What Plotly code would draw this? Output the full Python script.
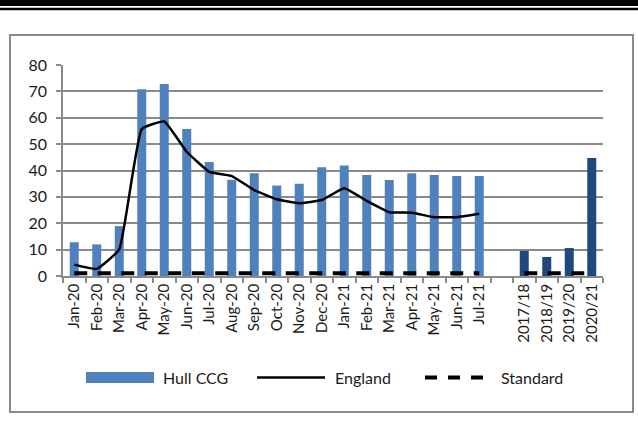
import plotly.graph_objects as go

# Monthly periods, a blank spacer slot, then financial years
months = ["Jan-20", "Feb-20", "Mar-20", "Apr-20", "May-20", "Jun-20", "Jul-20",
          "Aug-20", "Sep-20", "Oct-20", "Nov-20", "Dec-20", "Jan-21", "Feb-21",
          "Mar-21", "Apr-21", "May-21", "Jun-21", "Jul-21"]
spacer = [" "]
years = ["2017/18", "2018/19", "2019/20", "2020/21"]

hull_monthly = [12.8, 12.0, 18.9, 70.8, 72.8, 55.7, 43.2, 36.5, 39.0, 34.3, 35.0,
                41.2, 41.9, 38.3, 36.4, 39.0, 38.3, 37.9, 37.9]
hull_yearly = [9.5, 7.2, 10.6, 44.7]
england_monthly = [4.3, 2.7, 10.1, 55.7, 58.6, 47.1, 39.5, 37.9, 32.6, 29.1, 27.6,
                   28.8, 33.3, 28.5, 24.2, 24.0, 22.3, 22.3, 23.6]
standard_value = 1.0

y_ticks = [0, 10, 20, 30, 40, 50, 60, 70, 80]

categories = months + spacer + years

W, H = 638, 427
L, R, T, B = 63, 603, 65, 276  # plot area in pixels


def px(x):
    return (x - L) / (R - L)


def py(y):
    return (B - y) / (B - T)


FONT = "Lato"
GRID = "#8a8a8a"

fig = go.Figure()

fig.add_trace(go.Bar(
    x=months, y=hull_monthly, name="Hull CCG",
    marker=dict(color="#4f81bd", line=dict(width=0)),
))
fig.add_trace(go.Bar(
    x=years, y=hull_yearly, name="Hull CCG (annual)",
    marker=dict(color="#1f497d", line=dict(width=0)),
))
fig.add_trace(go.Scatter(
    x=months, y=england_monthly, name="England", mode="lines",
    line=dict(color="black", width=2.5, shape="spline", smoothing=0.35),
))
fig.add_trace(go.Scatter(
    x=months, y=[standard_value] * len(months), name="Standard", mode="lines",
    line=dict(color="black", width=4, dash="13px,10.5px"),
))
fig.add_trace(go.Scatter(
    x=years, y=[standard_value] * len(years), name="Standard (annual)", mode="lines",
    line=dict(color="black", width=4, dash="13px,10.5px"),
))

shapes = []
# header band at the top of the page
shapes.append(dict(type="rect", xref="paper", yref="paper",
                   x0=px(0), x1=px(W), y0=py(6), y1=py(-2),
                   fillcolor="black", line=dict(width=0), layer="above"))
shapes.append(dict(type="rect", xref="paper", yref="paper",
                   x0=px(0), x1=px(W), y0=py(10.3), y1=py(7.7),
                   fillcolor="black", line=dict(width=0), layer="above"))
# chart frame
shapes.append(dict(type="rect", xref="paper", yref="paper",
                   x0=px(10), x1=px(633), y0=py(412), y1=py(35),
                   line=dict(color="#8a8a8a", width=2), fillcolor="rgba(0,0,0,0)",
                   layer="below"))
# legend keys
leg_y = 377.5
shapes.append(dict(type="rect", xref="paper", yref="paper",
                   x0=px(86), x1=px(154), y0=py(383), y1=py(372),
                   fillcolor="#4f81bd", line=dict(width=0)))
shapes.append(dict(type="line", xref="paper", yref="paper",
                   x0=px(257), x1=px(325), y0=py(leg_y), y1=py(leg_y),
                   line=dict(color="black", width=2.5)))
shapes.append(dict(type="line", xref="paper", yref="paper",
                   x0=px(425), x1=px(484), y0=py(leg_y), y1=py(leg_y),
                   line=dict(color="black", width=4, dash="12px,11px")))

annotations = []
for text, x in [("Hull CCG", 161), ("England", 333), ("Standard", 499)]:
    annotations.append(dict(text=text, xref="paper", yref="paper",
                            x=px(x), y=py(leg_y), xanchor="left", yanchor="middle",
                            showarrow=False,
                            font=dict(family=FONT, size=16, color="#1a1a1a")))

fig.update_layout(
    width=W, height=H,
    margin=dict(l=L, r=W - R, t=T, b=H - B, pad=0),
    paper_bgcolor="white", plot_bgcolor="white",
    barmode="overlay", bargap=0.6,
    showlegend=False,
    shapes=shapes, annotations=annotations,
    font=dict(family=FONT, color="#1a1a1a"),
)

fig.update_xaxes(
    type="category", categoryorder="array", categoryarray=categories,
    range=[-0.5, len(categories) - 0.5],
    tickson="boundaries", ticks="outside", ticklen=5, tickcolor=GRID, tickwidth=1.5,
    showgrid=False, showline=True, linecolor=GRID, linewidth=1.5,
    tickangle=-90, tickfont=dict(family=FONT, size=15, color="#1a1a1a"),
    fixedrange=True,
)
fig.update_yaxes(
    range=[0, 80], tickvals=y_ticks,
    ticks="outside", ticklen=5, tickcolor=GRID, tickwidth=1.5,
    showgrid=True, gridcolor=GRID, gridwidth=1.5,
    showline=True, linecolor=GRID, linewidth=1.5, zeroline=False,
    ticklabelstandoff=6,
    tickfont=dict(family=FONT, size=16, color="#1a1a1a"),
    fixedrange=True,
)

fig.write_html("out.html")
